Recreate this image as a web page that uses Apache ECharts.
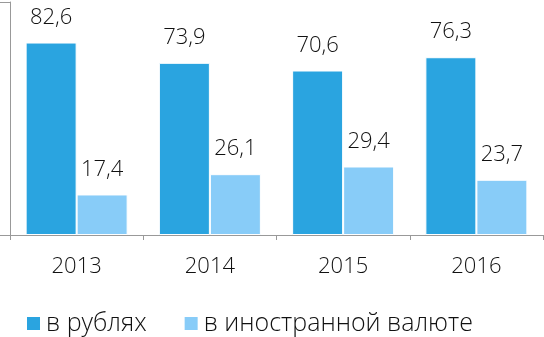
<!DOCTYPE html>
<html><head><meta charset="utf-8">
<script src="https://cdn.jsdelivr.net/npm/echarts@6/dist/echarts.min.js"></script>
<style>html,body{margin:0;padding:0;background:#fff}#c{width:544px;height:337px}</style>
</head><body><div id="c"></div>
<script>
const categories = ['2013', '2014', '2015', '2016'];
const rubles = [82.6, 73.9, 70.6, 76.3];
const foreign = [17.4, 26.1, 29.4, 23.7];
const seriesNames = ['в рублях', 'в иностранной валюте'];

const font = 'Open Sans';
const weight = 350;
const fmt = p => String(p.value).replace('.', ',');
const chart = echarts.init(document.getElementById('c'));
chart.setOption({
  animation: false,
  textStyle: { fontFamily: font },
  grid: { left: 10, right: 1, top: 2, bottom: 102, containLabel: false },
  legend: {
    data: seriesNames, left: 20, top: 306, icon: 'rect', itemWidth: 15, itemHeight: 15,
    itemGap: 36, textStyle: { fontSize: 25, color: '#111', fontFamily: font, fontWeight: weight }
  },
  xAxis: {
    type: 'category', data: categories,
    axisLine: { lineStyle: { color: '#999' } },
    axisTick: { show: true, length: 5, lineStyle: { color: '#999' } },
    axisLabel: { fontSize: 22, color: '#111', margin: 21, fontFamily: font, fontWeight: weight }
  },
  yAxis: {
    type: 'value', min: 0, max: 100, interval: 100,
    axisLine: { show: true, lineStyle: { color: '#999' } },
    axisTick: { show: true, length: 10, lineStyle: { color: '#999' } },
    axisLabel: { show: false },
    splitLine: { show: false }
  },
  series: [
    { name: seriesNames[0], type: 'bar', data: rubles, barWidth: 51, barGap: '0%',
      itemStyle: { color: '#2AA4E0', borderColor: '#fff', borderWidth: 1 },
      label: { show: true, position: 'top', distance: 14, fontSize: 22, color: '#111', formatter: fmt, fontFamily: font, fontWeight: weight } },
    { name: seriesNames[1], type: 'bar', data: foreign, barWidth: 51,
      itemStyle: { color: '#88CCF8', borderColor: '#fff', borderWidth: 1 },
      label: { show: true, position: 'top', distance: 14, fontSize: 22, color: '#111', formatter: fmt, fontFamily: font, fontWeight: weight } }
  ]
});
</script></body></html>
